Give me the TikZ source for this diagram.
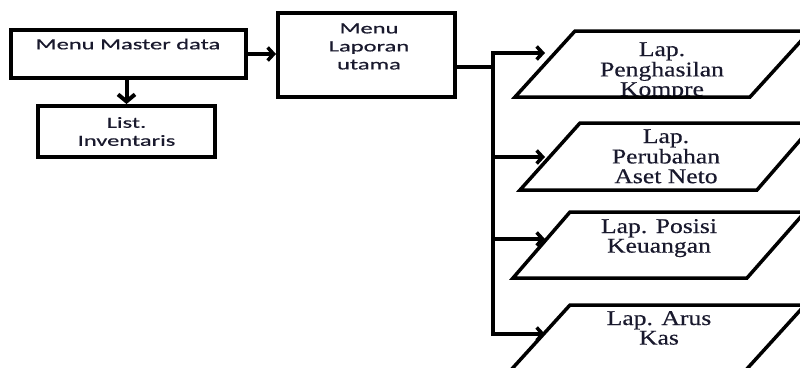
\documentclass[tikz,border=0pt]{standalone}
\usepackage{fontspec}
\usetikzlibrary{arrows.meta}
\newfontfamily\boxsans[FakeStretch=1.58,FakeBold=0.6]{Carlito}
\newfontfamily\boxserif[FakeStretch=1.22,FakeBold=0.4]{Liberation Serif}
\definecolor{txt}{RGB}{25,25,45}
\begin{document}
\begin{tikzpicture}[x=1pt,y=-1pt,
  boxnode/.style={draw, line width=4pt, inner sep=0pt},
  sanstxt/.style={font=\boxsans\fontsize{15.5}{18}\selectfont, text=txt, align=center, inner sep=0pt},
  seriftxt/.style={font=\boxserif\fontsize{21}{19.5}\selectfont, text=txt, inner sep=0pt, anchor=base},
  para/.style={line width=3.5pt, line join=miter},
  conn/.style={line width=3.5pt},
  arr/.style={conn, -{Straight Barb[length=6pt,width=13pt]}},
  downarr/.style={conn, line width=4pt, -{Straight Barb[length=7pt,width=17pt]}}
]
\useasboundingbox (0,0) rectangle (800,367);
\clip (0,0) rectangle (800,367);

% rectangles
\node[boxnode, minimum width=235pt, minimum height=48pt] (master) at (128.5,54) {};
\node[sanstxt] (mastert) at (128,44) {Menu Master data};
\node[boxnode, sanstxt, minimum width=177pt, minimum height=51pt] (list) at (126.5,131.5) {List.\\Inventaris};
\node[boxnode, minimum width=177pt, minimum height=84pt] (laporan) at (366.5,55) {};
\node[sanstxt] (laporant) at (369,46.5) {Menu\\Laporan\\utama};

% parallelograms
\begin{scope}
\clip (515,97) -- (575,31) -- (810,31) -- (750,97) -- cycle;
\node[seriftxt] (p1t) at (662,56) {\begin{tabular}[t]{@{}c@{}}Lap.\\Penghasilan\\Kompre\end{tabular}};
\end{scope}
\draw[para] (515,97) -- (575,31) -- (810,31) -- (750,97) -- cycle;

\begin{scope}
\clip (520,190) -- (580,123) -- (815,123) -- (757,190) -- cycle;
\node[seriftxt] (p2t) at (666,143) {\begin{tabular}[t]{@{}c@{}}Lap.\\Perubahan\\Aset Neto\end{tabular}};
\end{scope}
\draw[para] (520,190) -- (580,123) -- (815,123) -- (757,190) -- cycle;

\node[seriftxt] (p3t) at (659,233) {\begin{tabular}[t]{@{}c@{}}Lap. Posisi\\Keuangan\end{tabular}};
\draw[para] (513,278) -- (570,212) -- (805,212) -- (747,278) -- cycle;

\node[seriftxt] (p4t) at (659,325) {\begin{tabular}[t]{@{}c@{}}Lap. Arus\\Kas\end{tabular}};
\draw[para] (510,371) -- (570,305) -- (805,305) -- (745,371) -- cycle;

% connectors
\coordinate (trunk) at (493,67);
\coordinate (b1) at (493,53);
\coordinate (b2) at (493,157);
\coordinate (b3) at (493,239);
\coordinate (b4) at (493,334);
\coordinate (t1) at (545,53);
\coordinate (t2) at (545,157);
\coordinate (t3) at (545,239);
\coordinate (t4) at (545,334);

\draw[downarr] (list.north |- master.south) -- (list.north);
\draw[arr] (master.east) -- (master.east -| laporan.west);
\draw[conn] (laporan.east |- trunk) -- (trunk);
\draw[arr] (b4) -- (b1) -- (t1);
\draw[arr] (b1) -- (b4) -- (t4);
\draw[arr] (b2) -- (t2);
\draw[arr] (b3) -- (t3);
\end{tikzpicture}
\end{document}
